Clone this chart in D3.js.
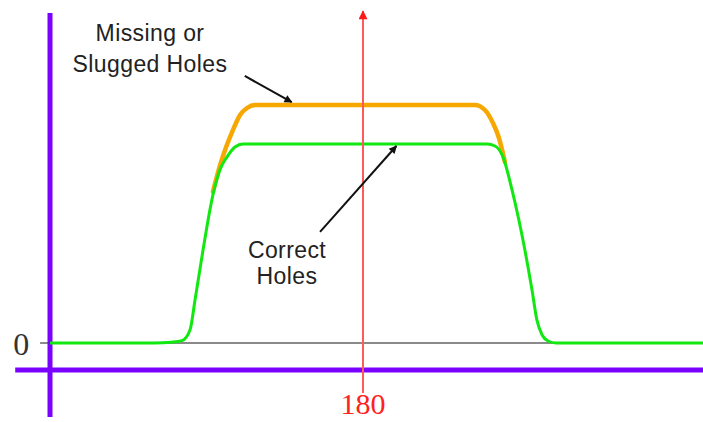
<!DOCTYPE html>
<html>
<head>
<meta charset="utf-8">
<script src="https://cdn.jsdelivr.net/npm/d3@7"></script>
<style>
  html, body { margin: 0; padding: 0; background: #fff; }
  svg { display: block; }
</style>
</head>
<body>
<div id="chart"></div>
<script>
// x in degrees, y relative to correct-hole level (1 = plateau)
var correctX = [0, 60, 70, 76, 80.5, 83.4, 88, 93.7, 97.7, 101.8, 106.4, 111, 180, 251.3, 255.9, 260.5, 265.7, 273.1, 277.2, 280, 283, 286.4, 291, 376];
var correctY = [0, 0, 0.004, 0.012, 0.065, 0.216, 0.467, 0.744, 0.87, 0.935, 0.985, 1, 1, 1, 0.99, 0.935, 0.769, 0.467, 0.266, 0.116, 0.04, 0.01, 0, 0];

var missingX = [93.7, 97.8, 101.5, 105.2, 109.3, 113.3, 117.9, 180, 244.4, 250.1, 254.7, 258.2, 261.6];
var missingY = [0.76, 0.894, 0.99, 1.07, 1.146, 1.181, 1.196, 1.196, 1.196, 1.171, 1.106, 1.03, 0.91];

var centerAngle = 180;
var zeroLabel = "0";
var centerLabel = "180";
var missingLabel = ["Missing or", "Slugged Holes"];
var correctLabel = ["Correct", "Holes"];

var width = 703;
var height = 422;

var x = d3.scaleLinear().domain([0, 180]).range([50, 363]);
var y = d3.scaleLinear().domain([0, 1]).range([343, 144]);

var svg = d3.select("#chart")
  .append("svg")
  .attr("width", width)
  .attr("height", height);

var defs = svg.append("defs");
defs.append("marker")
  .attr("id", "redhead")
  .attr("viewBox", "0 0 10 10")
  .attr("refX", 9).attr("refY", 5)
  .attr("markerWidth", 8.5).attr("markerHeight", 4.5)
  .attr("markerUnits", "strokeWidth")
  .attr("orient", "auto")
  .append("path")
  .attr("d", "M0,0 L10,5 L0,10 Z")
  .attr("fill", "#ff1a1a");
defs.append("marker")
  .attr("id", "blackhead")
  .attr("viewBox", "0 0 10 10")
  .attr("refX", 9).attr("refY", 5)
  .attr("markerWidth", 7).attr("markerHeight", 4)
  .attr("markerUnits", "strokeWidth")
  .attr("orient", "auto")
  .append("path")
  .attr("d", "M0,0 L10,5 L0,10 Z")
  .attr("fill", "#111");

// gray zero line
svg.append("line")
  .attr("x1", x(-5.7)).attr("x2", width)
  .attr("y1", y(0)).attr("y2", y(0))
  .attr("stroke", "#8a8a8a")
  .attr("stroke-width", 2);

// purple axes
svg.append("line")
  .attr("x1", x(-20)).attr("x2", width)
  .attr("y1", y(-0.136)).attr("y2", y(-0.136))
  .attr("stroke", "#7a00ff")
  .attr("stroke-width", 5);

svg.append("line")
  .attr("x1", x(0)).attr("x2", x(0))
  .attr("y1", y(1.658)).attr("y2", y(-0.372))
  .attr("stroke", "#7a00ff")
  .attr("stroke-width", 5);

var line = d3.line()
  .x(function(d){ return x(d[0]); })
  .y(function(d){ return y(d[1]); })
  .curve(d3.curveMonotoneX);

var missing = missingX.map(function(v, i){ return [v, missingY[i]]; });
var correct = correctX.map(function(v, i){ return [v, correctY[i]]; });

svg.append("path")
  .attr("d", line(missing))
  .attr("fill", "none")
  .attr("stroke", "#f7a800")
  .attr("stroke-width", 4.5)
  .attr("stroke-linecap", "round");

svg.append("path")
  .attr("d", line(correct))
  .attr("fill", "none")
  .attr("stroke", "#11e811")
  .attr("stroke-width", 3)
  .attr("stroke-linejoin", "round");

// red centre line
svg.append("line")
  .attr("x1", x(centerAngle)).attr("x2", x(centerAngle))
  .attr("y1", y(-0.251)).attr("y2", y(1.668))
  .attr("stroke", "#ff5a5a")
  .attr("stroke-width", 2)
  .attr("marker-end", "url(#redhead)");

// labels
svg.append("text")
  .attr("x", x(-16.6)).attr("y", y(-0.06))
  .attr("text-anchor", "middle")
  .attr("font-family", "Liberation Serif, Times New Roman, serif")
  .attr("font-size", 32)
  .attr("fill", "#333")
  .text(zeroLabel);

svg.append("text")
  .attr("x", x(centerAngle)).attr("y", 414)
  .attr("text-anchor", "middle")
  .attr("font-family", "Liberation Serif, Times New Roman, serif")
  .attr("font-size", 30)
  .attr("fill", "#ff2020")
  .text(centerLabel);

function label(lines, cx, base, gap) {
  var t = svg.append("text")
    .attr("text-anchor", "middle")
    .attr("font-family", "Liberation Sans, Arial, sans-serif")
    .attr("font-size", 23)
    .attr("letter-spacing", 0.4)
    .attr("fill", "#222");
  lines.forEach(function(s, i){
    t.append("tspan").attr("x", cx).attr("y", base + i * gap).text(s);
  });
}

label(missingLabel, x(57.5), 41, 31);
label(correctLabel, x(136.3), 258, 26);

// annotation arrows
svg.append("line")
  .attr("x1", x(112)).attr("y1", y(1.342))
  .attr("x2", x(139)).attr("y2", y(1.21))
  .attr("stroke", "#111")
  .attr("stroke-width", 2)
  .attr("marker-end", "url(#blackhead)");

svg.append("line")
  .attr("x1", x(155.3)).attr("y1", y(0.558))
  .attr("x2", x(199.2)).attr("y2", y(0.99))
  .attr("stroke", "#111")
  .attr("stroke-width", 2)
  .attr("marker-end", "url(#blackhead)");
</script>
</body>
</html>
